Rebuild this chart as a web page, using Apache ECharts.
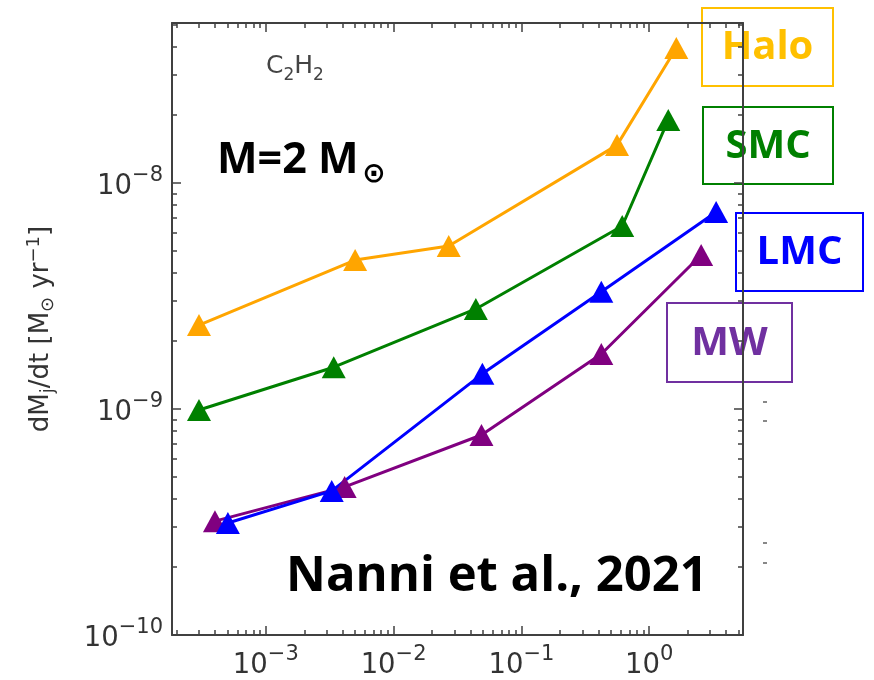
<!DOCTYPE html>
<html>
<head>
<meta charset="utf-8">
<script src="https://cdn.jsdelivr.net/npm/echarts@6/dist/echarts.min.js"></script>
<style>
  html, body { margin: 0; padding: 0; background: #ffffff; }
  #chart { width: 874px; height: 680px; }
</style>
</head>
<body>
<div id="chart"></div>
<script>
// C2H2 mass-loss rate for a 2 Msun model in four environments (log-log)
const haloX = [3.0e-4, 5.0e-3, 0.027, 0.56, 1.63];
const haloY = [2.35e-9, 4.56e-9, 5.26e-9, 1.47e-8, 3.95e-8];
const smcX  = [3.0e-4, 3.4e-3, 0.044, 0.615, 1.41];
const smcY  = [9.9e-10, 1.53e-9, 2.77e-9, 6.45e-9, 1.9e-8];
const mwX   = [4.0e-4, 4.14e-3, 0.0487, 0.422, 2.55];
const mwY   = [3.19e-10, 4.52e-10, 7.67e-10, 1.75e-9, 4.8e-9];
const lmcX  = [5.05e-4, 3.28e-3, 0.0495, 0.422, 3.34];
const lmcY  = [3.13e-10, 4.34e-10, 1.43e-9, 3.3e-9, 7.44e-9];

const boxLabels = ['Halo', 'SMC', 'LMC', 'MW'];
const xMajorTicks = [1e-3, 1e-2, 1e-1, 1];
const yMajorTicks = [1e-10, 1e-9, 1e-8];
const xRange = [1.845e-4, 5.42];
const yRange = [1e-10, 5.1e-8];

// minor ticks at 2..9 times each power of ten inside a range
function minorTicks(range) {
  const out = [];
  const lo = Math.floor(Math.log10(range[0]));
  const hi = Math.ceil(Math.log10(range[1]));
  for (let d = lo; d <= hi; d++) {
    for (let m = 2; m <= 9; m++) {
      const v = m * Math.pow(10, d);
      if (v >= range[0] && v <= range[1]) out.push(v);
    }
  }
  return out;
}

const frameColor = '#404040';
const tickFont = 'DejaVu Sans';
const noteFont = 'Open Sans';

function powLabel(v) {
  const e = Math.round(Math.log10(v));
  const s = e < 0 ? '\u2212' + Math.abs(e) : String(e);
  return '{b|10}{s|' + s + '}';
}
const powRich = {
  b: { fontSize: 27.5, lineHeight: 36, verticalAlign: 'bottom', fontFamily: tickFont, color: '#333' },
  s: { fontSize: 21, lineHeight: 19, verticalAlign: 'top', fontFamily: tickFont, color: '#333' }
};

function makeAxis(dim, position, ticks, len, withLine, withLabels) {
  const range = dim === 'x' ? xRange : yRange;
  const ax = {
    type: 'log',
    logBase: 10,
    position: position,
    min: range[0],
    max: range[1],
    splitLine: { show: false },
    axisLine: { show: withLine, onZero: false, lineStyle: { color: frameColor, width: 2 } },
    axisTick: { show: true, inside: true, length: len, customValues: ticks,
                lineStyle: { color: frameColor, width: 1.5 } },
    axisLabel: { show: false }
  };
  if (withLabels) {
    ax.axisLabel = {
      show: true,
      customValues: ticks,
      margin: 9,
      formatter: powLabel,
      rich: powRich
    };
  }
  return ax;
}

const xMinor = minorTicks(xRange);
const yMinor = minorTicks(yRange);

const xAxes = [
  makeAxis('x', 'bottom', xMajorTicks, 9, true, true),
  makeAxis('x', 'bottom', xMinor, 5, false, false),
  makeAxis('x', 'top', xMajorTicks, 9, true, false),
  makeAxis('x', 'top', xMinor, 5, false, false)
];
const yAxes = [
  makeAxis('y', 'left', yMajorTicks, 9, true, true),
  makeAxis('y', 'left', yMinor, 5, false, false),
  makeAxis('y', 'right', yMajorTicks, 9, true, false),
  makeAxis('y', 'right', yMinor, 5, false, false)
];
yAxes[0].name = '{m|dM}{d|j}{m|/dt [M}{d|\u2299}{m| yr}{u|\u22121}{m|]}';
yAxes[0].nameLocation = 'middle';
yAxes[0].nameGap = 115;
yAxes[0].nameRotate = 90;
yAxes[0].nameTextStyle = {
  rich: {
    m: { fontSize: 26, lineHeight: 32, fontFamily: tickFont, color: '#333', verticalAlign: 'middle' },
    d: { fontSize: 18, lineHeight: 18, fontFamily: tickFont, color: '#333', verticalAlign: 'bottom' },
    u: { fontSize: 18, lineHeight: 16, fontFamily: tickFont, color: '#333', verticalAlign: 'top' }
  }
};

function zip(xs, ys) { return xs.map((x, i) => [x, ys[i]]); }

function lineSeries(name, xs, ys, color) {
  return {
    name: name,
    type: 'line',
    xAxisIndex: 0,
    yAxisIndex: 0,
    data: zip(xs, ys),
    symbol: 'triangle',
    symbolSize: [24, 22],
    showSymbol: true,
    lineStyle: { color: color, width: 3 },
    itemStyle: { color: color },
    emphasis: { disabled: true }
  };
}

function labelBox(text, x, y, w, h, color) {
  return {
    type: 'group',
    z: 100,
    children: [
      { type: 'rect', shape: { x: x, y: y, width: w, height: h },
        style: { fill: '#ffffff', stroke: color, lineWidth: 2 } },
      { type: 'text', x: x + w / 2, y: y + h / 2 + 1,
        style: { text: text, fill: color, fontFamily: noteFont, fontWeight: 'bold', fontSize: 40,
                 align: 'center', verticalAlign: 'middle',
                 textAlign: 'center', textVerticalAlign: 'middle' } }
    ]
  };
}

const chart = echarts.init(document.getElementById('chart'), null, { renderer: 'canvas' });
chart.setOption({
  animation: false,
  backgroundColor: '#ffffff',
  grid: { left: 172, right: 131, top: 23, bottom: 45, containLabel: false, outerBoundsMode: 'none' },
  xAxis: xAxes,
  yAxis: yAxes,
  series: [
    lineSeries('Halo', haloX, haloY, '#FFA500'),
    lineSeries('SMC', smcX, smcY, '#008000'),
    lineSeries('MW', mwX, mwY, '#800080'),
    lineSeries('LMC', lmcX, lmcY, '#0000FF')
  ],
  graphic: [
    { type: 'text', x: 266, y: 54, z: 50,
      style: { text: '{a|C}{s|2}{a|H}{s|2}', align: 'left', verticalAlign: 'top',
               textAlign: 'left', textVerticalAlign: 'top',
               rich: {
                 a: { fontSize: 25, lineHeight: 30, fontFamily: tickFont, fill: '#444', color: '#444', verticalAlign: 'top' },
                 s: { fontSize: 17, lineHeight: 17, fontFamily: tickFont, fill: '#444', color: '#444', verticalAlign: 'bottom' }
               } } },
    { type: 'text', x: 217, y: 161, z: 50,
      style: { text: 'M=2 M', fill: '#000', fontFamily: noteFont, fontWeight: 'bold', fontSize: 43,
               align: 'left', verticalAlign: 'middle', textAlign: 'left', textVerticalAlign: 'middle' } },
    { type: 'text', x: 374, y: 175, z: 50,
      style: { text: '\u2299', fill: '#000', fontFamily: 'DejaVu Sans', fontWeight: 'bold', fontSize: 28,
               align: 'center', verticalAlign: 'middle', textAlign: 'center', textVerticalAlign: 'middle' } },
    { type: 'text', x: 497, y: 577, z: 50,
      style: { text: 'Nanni et al., 2021', fill: '#000', fontFamily: noteFont, fontWeight: 'bold', fontSize: 49,
               align: 'center', verticalAlign: 'middle', textAlign: 'center', textVerticalAlign: 'middle' } },
    labelBox(boxLabels[0], 702, 8, 131, 78, '#FFC000'),
    labelBox(boxLabels[1], 703, 107, 130, 77, '#008000'),
    labelBox(boxLabels[2], 736, 213, 127, 78, '#0000FF'),
    labelBox(boxLabels[3], 667, 303, 125, 79, '#7030A0'),
    // clipped fragments of a neighbouring panel's tick marks
    { type: 'rect', shape: { x: 763, y: 401, width: 4, height: 2 }, style: { fill: '#888' } },
    { type: 'rect', shape: { x: 763, y: 420, width: 4, height: 2 }, style: { fill: '#888' } },
    { type: 'rect', shape: { x: 763, y: 542, width: 4, height: 2 }, style: { fill: '#888' } },
    { type: 'rect', shape: { x: 763, y: 562, width: 4, height: 2 }, style: { fill: '#888' } }
  ]
});
</script>
</body>
</html>
